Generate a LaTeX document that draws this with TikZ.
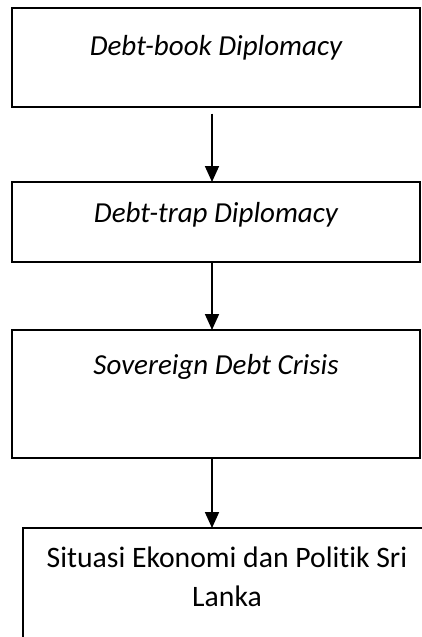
\documentclass[tikz,border=0pt]{standalone}
\usepackage{fontspec}
\setmainfont{Carlito}[Ligatures={NoCommon}]
\usetikzlibrary{arrows.meta}
\begin{document}
\begin{tikzpicture}[x=1pt,y=-1pt,
  box/.style={draw=black,line width=2pt,fill=white,inner sep=0pt,outer sep=0pt,rectangle},
  lbl/.style={font=\fontsize{29}{39}\selectfont,anchor=base,inner sep=0pt},
  conn/.style={line width=1.8pt,-{Triangle[width=14pt,length=16pt]}}]
\clip (0,0) rectangle (422,637);
\node[box,minimum width=408pt,minimum height=99pt] (b1) at (216,57) {};
\node[box,minimum width=408pt,minimum height=80pt] (b2) at (216,222) {};
\node[box,minimum width=408pt,minimum height=128pt] (b3) at (216,394) {};
\node[box,minimum width=408pt,minimum height=140pt] (b4) at (227,598) {};
\node[lbl] (t1) at (216,55) {\itshape Debt-book Diplomacy};
\node[lbl] (t2) at (216,222) {\itshape Debt-trap Diplomacy};
\node[lbl] (t3) at (216,374) {\itshape Sovereign Debt Crisis};
\node[lbl,font=\fontsize{29.7}{39}\selectfont] (t4) at (227,567) {Situasi Ekonomi dan Politik Sri};
\node[lbl,font=\fontsize{29.7}{39}\selectfont] (t5) at (227,606) {Lanka};
\draw[conn,shorten <=7pt] (b1.south -| 212,0) -- (b2.north -| 212,0);
\draw[conn] (b2.south -| 212,0) -- (b3.north -| 212,0);
\draw[conn] (b3.south -| 212,0) -- (b4.north -| 212,0);
\end{tikzpicture}
\end{document}
